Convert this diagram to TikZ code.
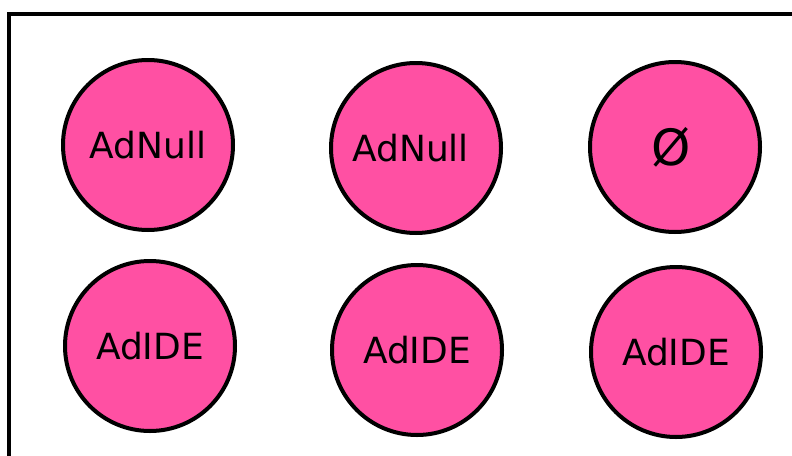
\documentclass[tikz,border=0pt]{standalone}
\usepackage{fontspec}
\setmainfont{DejaVu Sans}
\definecolor{blobpink}{RGB}{255,80,163}
\tikzset{
  blob/.style={circle, draw=black, line width=4pt, fill=blobpink,
    minimum size=170pt, inner sep=0pt, font=\fontsize{36}{42}\selectfont},
  bigglyph/.style={font=\fontsize{50}{56}\selectfont},
  frameline/.style={draw=black, line width=4.5pt}
}
\begin{document}
\begin{tikzpicture}[x=1pt,y=-1pt]
  \useasboundingbox (0,0) rectangle (792,455);
  \clip (0,0) rectangle (792,455);
  \fill[white] (0,0) rectangle (792,455);
  % outer frame, running off the right and bottom edges
  \draw[frameline] (9,470) -- (9,14) -- (810,14);
  % top row
  \node[blob] (n1) at (148,145) {AdNull};
  \node[blob] (n2) at (416,148) {\kern-11pt AdNull};
  \node[blob, bigglyph] (n3) at (675,147) {\kern-8pt Ø};
  % bottom row
  \node[blob] (i1) at (150,346) {AdIDE};
  \node[blob] (i2) at (417,350) {AdIDE};
  \node[blob] (i3) at (676,352) {AdIDE};
\end{tikzpicture}
\end{document}
